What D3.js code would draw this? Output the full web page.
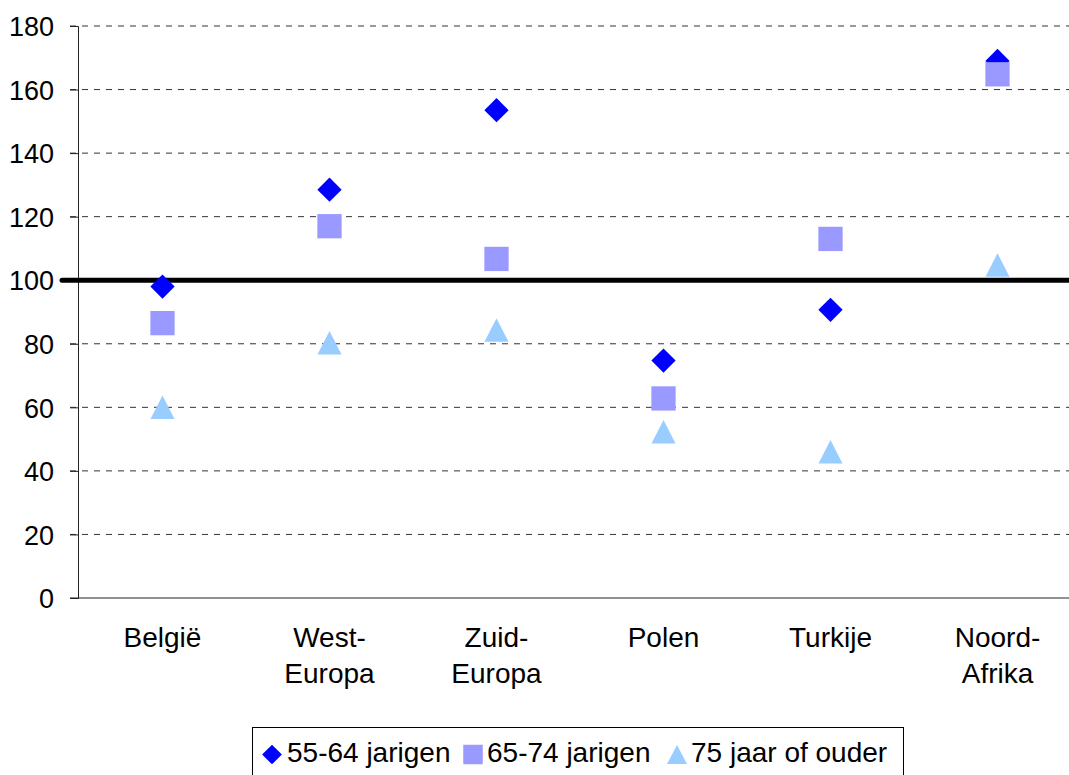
<!DOCTYPE html>
<html>
<head>
<meta charset="utf-8">
<script src="https://cdn.jsdelivr.net/npm/d3@7"></script>
<style>
  body { margin: 0; background: #fff; }
  svg { font-family: "Liberation Sans", Arial, sans-serif; }
</style>
</head>
<body>
<svg id="chart" width="1069" height="775"></svg>
<script>
const categories = [["België"], ["West-", "Europa"], ["Zuid-", "Europa"], ["Polen"], ["Turkije"], ["Noord-", "Afrika"]];
const age55 = [98, 128.5, 153.5, 74.7, 90.7, 169];
const age65 = [86.5, 117, 106.7, 62.8, 113, 164.8];
const age75 = [60, 80.3, 84.3, 52.3, 46, 104.8];
const refLine = 100;
const yTicks = [0, 20, 40, 60, 80, 100, 120, 140, 160, 180];
const seriesNames = ["55-64 jarigen", "65-74 jarigen", "75 jaar of ouder"];

const svg = d3.select("#chart");
const margin = {top: 26, left: 78, bottom: 177};
const plotW = 1002, plotH = 775 - margin.top - margin.bottom;

const x = d3.scaleBand()
    .domain(d3.range(categories.length))
    .range([margin.left + 1, margin.left + 1 + plotW]);

const y = d3.scaleLinear()
    .domain([0, 180])
    .range([margin.top + plotH, margin.top]);

// dashed gridlines
svg.append("g")
    .selectAll("line")
    .data(yTicks.filter(d => d > 0))
    .join("line")
    .attr("x1", margin.left - 8)
    .attr("x2", 1069)
    .attr("y1", d => y(d))
    .attr("y2", d => y(d))
    .attr("stroke", "#333")
    .attr("stroke-width", 1)
    .attr("stroke-dasharray", "6,6");

// y axis
const yAxis = svg.append("g")
    .attr("transform", `translate(${margin.left},0)`)
    .call(d3.axisLeft(y).tickValues(yTicks).tickSize(8).tickPadding(16));
yAxis.select(".domain").attr("stroke", "#222");
yAxis.selectAll(".tick line").attr("stroke", "#222");
yAxis.selectAll(".tick text")
    .attr("font-size", 27)
    .attr("fill", "#000")
    .attr("dy", "0.36em")
    .attr("font-family", "Liberation Sans, Arial, sans-serif");

// x axis line
svg.append("line")
    .attr("x1", margin.left - 8)
    .attr("x2", 1069)
    .attr("y1", y(0))
    .attr("y2", y(0))
    .attr("stroke", "#222")
    .attr("stroke-width", 1);

// category labels
const catG = svg.append("g")
    .selectAll("text")
    .data(categories)
    .join("text")
    .attr("text-anchor", "middle")
    .attr("font-size", 28)
    .attr("fill", "#000");
catG.each(function(lines, i) {
  d3.select(this).selectAll("tspan")
    .data(lines)
    .join("tspan")
    .attr("x", x(i) + x.bandwidth() / 2)
    .attr("y", (d, j) => 647 + j * 36)
    .text(d => d);
});

// reference line at 100
svg.append("line")
    .attr("x1", 62)
    .attr("x2", 1069)
    .attr("y1", y(refLine))
    .attr("y2", y(refLine))
    .attr("stroke", "#000")
    .attr("stroke-width", 5)
    .attr("stroke-linecap", "round");

const cx = i => x(i) + x.bandwidth() / 2;
const tri = (w, h) => `M0,${-h / 2}L${w / 2},${h / 2}L${-w / 2},${h / 2}Z`;
const diamondPath = d3.symbol().type(d3.symbolSquare).size(295)();
const squarePath = d3.symbol().type(d3.symbolSquare).size(590)();

// 55-64 diamonds
svg.append("g").selectAll("path")
    .data(age55)
    .join("path")
    .attr("d", diamondPath)
    .attr("transform", (d, i) => `translate(${cx(i)},${y(d)}) rotate(45)`)
    .attr("fill", "#0000FF");

// 65-74 squares (drawn over the diamonds)
svg.append("g").selectAll("path")
    .data(age65)
    .join("path")
    .attr("d", squarePath)
    .attr("transform", (d, i) => `translate(${cx(i)},${y(d)})`)
    .attr("fill", "#9999FF");

// 75+ triangles
svg.append("g").selectAll("path")
    .data(age75)
    .join("path")
    .attr("d", tri(24, 23.5))
    .attr("transform", (d, i) => `translate(${cx(i)},${y(d)})`)
    .attr("fill", "#99CCFF");

// legend
const legend = svg.append("g");
legend.append("rect")
    .attr("x", 252.5)
    .attr("y", 727.5)
    .attr("width", 651)
    .attr("height", 60)
    .attr("fill", "#fff")
    .attr("stroke", "#000")
    .attr("stroke-width", 1);

const legendItems = [
  {name: seriesNames[0], mx: 272, tx: 287, shape: "diamond", color: "#0000FF"},
  {name: seriesNames[1], mx: 473, tx: 487, shape: "square", color: "#9999FF"},
  {name: seriesNames[2], mx: 677, tx: 691, shape: "triangle", color: "#99CCFF"}
];
const ly = 754.5;
legendItems.forEach(it => {
  let d;
  if (it.shape === "diamond") d = d3.symbol().type(d3.symbolSquare).size(195)();
  else if (it.shape === "square") d = d3.symbol().type(d3.symbolSquare).size(380)();
  else d = tri(20, 19);
  legend.append("path")
    .attr("d", d)
    .attr("transform", `translate(${it.mx},${ly})` + (it.shape === "diamond" ? " rotate(45)" : ""))
    .attr("fill", it.color);
  legend.append("text")
    .attr("x", it.tx)
    .attr("y", 762)
    .attr("font-size", 28)
    .attr("fill", "#000")
    .text(it.name);
});
</script>
</body>
</html>
